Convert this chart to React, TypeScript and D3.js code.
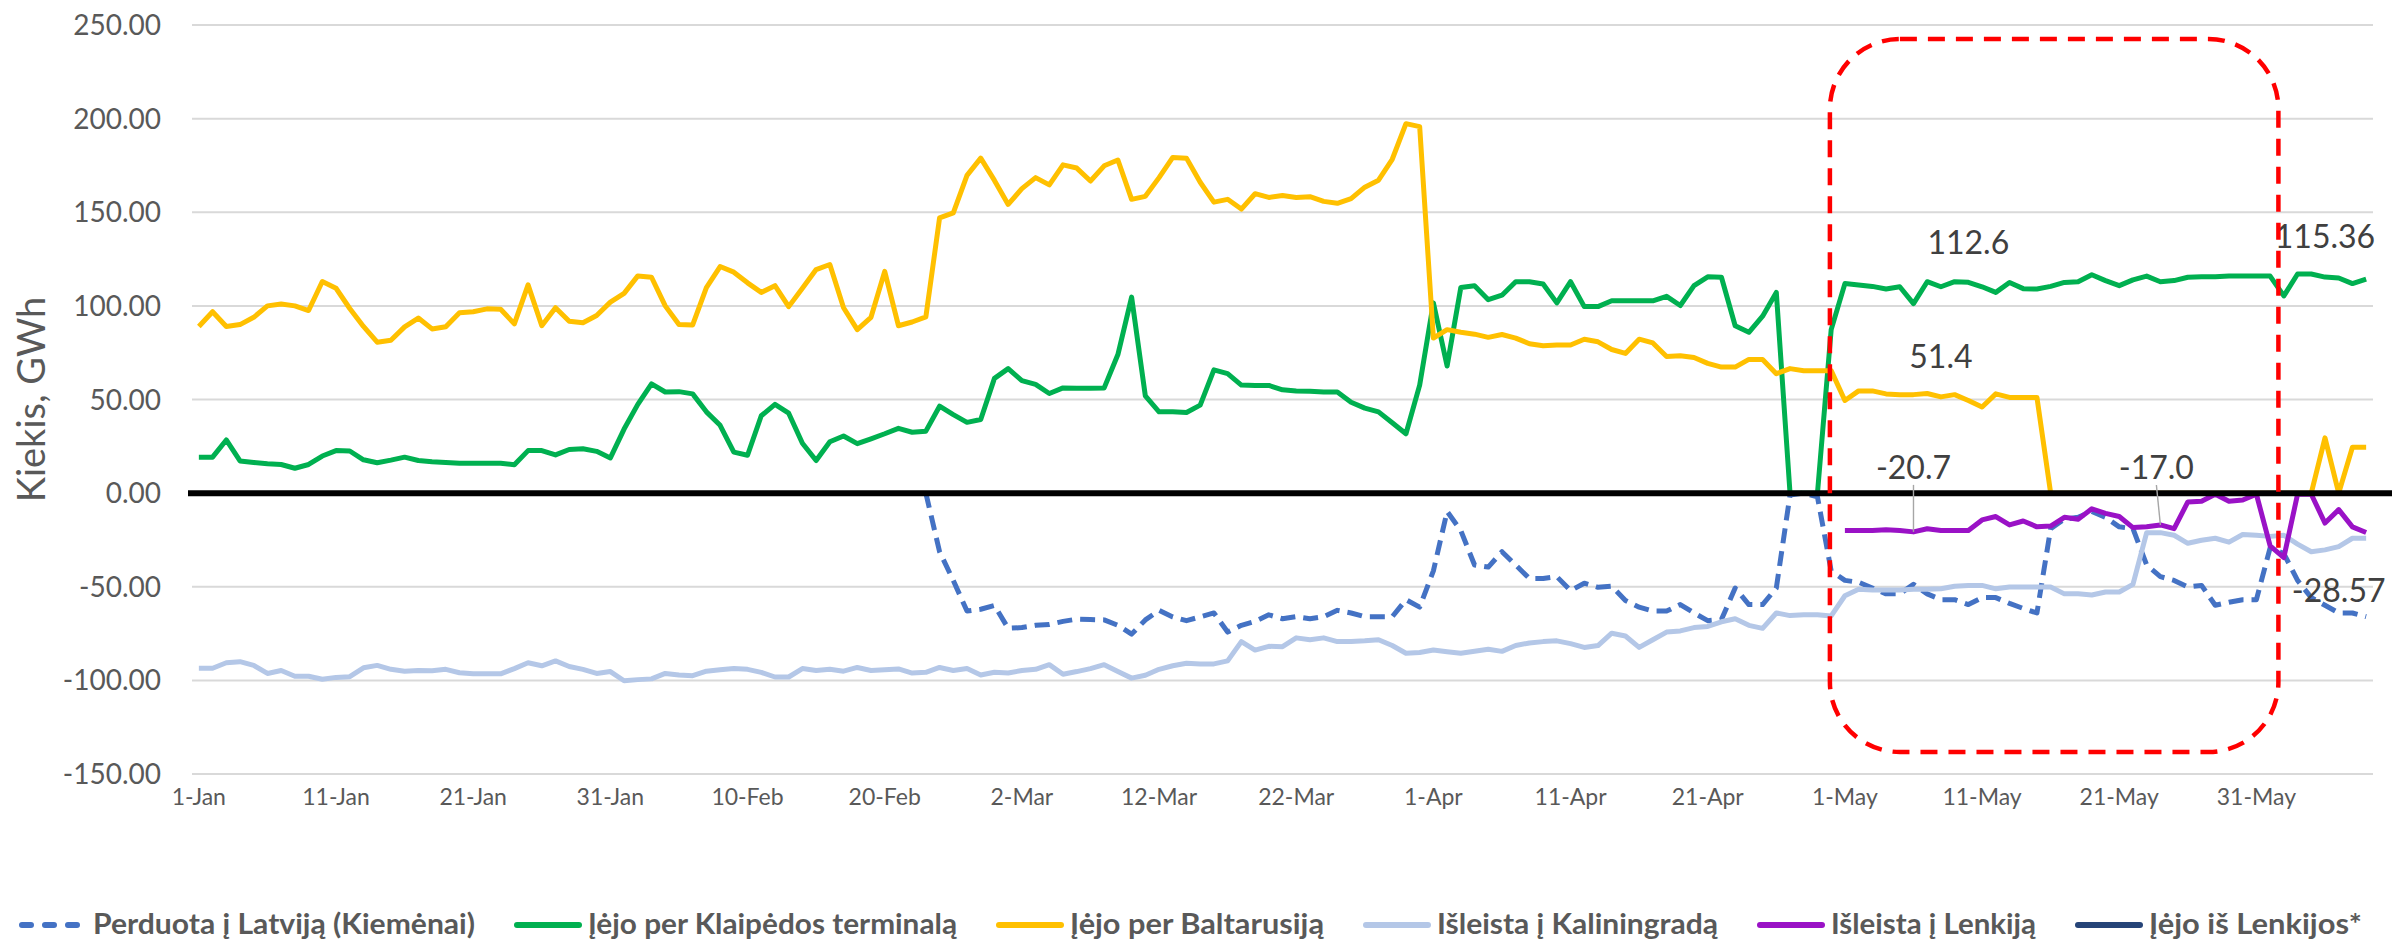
import * as d3 from 'd3';

const W = 2392;
const H = 940;
const PLOT_LEFT = 192;
const PLOT_RIGHT = 2373;
const FONT = "Lato, 'Open Sans', sans-serif";

// every day of 2022 from 1-Jan to 8-Jun
const dayDates = d3.timeDay.range(new Date(2022, 0, 1), new Date(2022, 5, 9));
const categories = dayDates.map(d3.timeFormat('%-d-%b'));

const xTickLabels = [
  '1-Jan', '11-Jan', '21-Jan', '31-Jan', '10-Feb', '20-Feb', '2-Mar', '12-Mar',
  '22-Mar', '1-Apr', '11-Apr', '21-Apr', '1-May', '11-May', '21-May', '31-May',
];
const yTicks = [250, 200, 150, 100, 50, 0, -50, -100, -150];

// Perduota į Latviją (Kiemėnai), from 23-Feb
const latvija = [
  0, -31.3, -46.6, -63, -62, -60, -72.2, -71.8, -70.6, -70.1,
  -68.5, -67.3, -67.5, -67.7, -70.6, -75.3, -67.7, -62.6, -66.1, -68.1,
  -66.1, -64, -74.2, -70.6, -68.5, -65, -67.1, -66, -67.1, -66,
  -62.6, -64, -66, -66, -66, -56.9, -60.9, -41.5, -9.8, -20,
  -38.4, -39.5, -31.3, -38.4, -45.6, -45.6, -44.6, -52.1, -48.1, -50.3,
  -49.7, -57.3, -60.9, -63, -63, -59.5, -64, -68.1, -67.5, -50.7,
  -59.5, -59.5, -50.7, -1, 0, -2, -41.5, -46.6, -47.6, -50.7,
  -53.8, -53.8, -48.7, -53.8, -56.9, -56.9, -59.5, -55.8, -55.8, -58.9,
  -61.6, -64, -19, -13.9, -12.9, -9.8, -12.9, -18, -19, -38.4,
  -44.6, -46.6, -50.1, -49.3, -59.9, -58.3, -56.9, -56.9, -29.2, -32.3,
  -46.6, -55.8, -59.9, -64, -64, -66,
];

// Įėjo per Klaipėdos terminalą
const klaipeda = [
  19.2, 19.2, 28.4, 17.2, 16.4, 15.7, 15.3, 13.3, 15.3, 19.8,
  22.7, 22.5, 17.8, 16.2, 17.6, 19.2, 17.4, 16.8, 16.4, 16.0,
  16.0, 16.0, 16.0, 15.1, 22.7, 22.7, 20.4, 23.3, 23.7, 22.3,
  18.8, 34.2, 47.4, 58.3, 54.0, 54.2, 53.0, 43.4, 36.2, 21.9,
  20.2, 41.3, 47.4, 42.7, 26.6, 17.4, 27.4, 30.5, 26.4, 29.0,
  31.7, 34.6, 32.5, 33.1, 46.4, 41.9, 37.8, 39.3, 61.3, 66.5,
  60.1, 58.1, 53.2, 56.2, 56.0, 56.0, 56.2, 74.0, 104.7, 51.9,
  43.4, 43.4, 43.1, 47.0, 65.8, 63.8, 57.7, 57.5, 57.5, 55.2,
  54.6, 54.4, 54.0, 54.0, 48.5, 45.4, 43.4, 37.6, 31.7, 57.7,
  101.6, 67.9, 109.8, 110.8, 103.3, 105.7, 112.9, 112.9, 111.7, 101.6,
  112.9, 99.6, 99.6, 102.7, 102.7, 102.7, 102.7, 105.1, 100.2, 110.8,
  115.5, 115.3, 89.4, 85.9, 94.5, 107.2, 0, 0, 0, 87.3,
  111.9, 111.2, 110.4, 109.0, 110.2, 101.2, 112.9, 110.2, 112.9, 112.6,
  110.2, 107.2, 112.5, 109.2, 109.0, 110.4, 112.5, 112.9, 116.6, 113.5,
  110.8, 113.9, 115.9, 112.9, 113.5, 115.3, 115.5, 115.5, 115.9, 115.9,
  115.9, 115.9, 105.3, 117.0, 117.0, 115.36, 114.9, 111.9, 114.3,
];

// Įėjo per Baltarusiją
const baltarusija = [
  89, 96.9, 89, 90, 93.9, 100, 101, 100, 97.5, 113,
  109.4, 98.6, 89, 80.6, 81.6, 88.8, 93.5, 87.7, 88.8, 96.3,
  96.9, 98.4, 98.2, 90.4, 111.2, 89.4, 99, 91.8, 91, 94.9,
  102, 106.7, 116, 115.3, 100, 90, 89.8, 109.8, 121, 118,
  112.3, 107.2, 110.8, 99.6, 109.4, 119.4, 122.1, 99, 87.3, 93.9,
  118.4, 89.4, 91.4, 94.1, 147, 149.7, 169.7, 178.9, 167, 154.2,
  162.6, 168.5, 164.6, 175.3, 173.6, 166.7, 174.8, 177.9, 156.9, 158.5,
  168.5, 179.3, 178.9, 166, 155.4, 156.9, 151.7, 159.9, 157.9, 158.9,
  157.9, 158.3, 155.8, 154.8, 157.3, 163.4, 167.1, 178.3, 197.3, 195.7,
  82.8, 87.3, 85.9, 84.9, 83.2, 84.7, 82.8, 79.8, 78.7, 79.1,
  79.1, 82.2, 80.8, 76.7, 74.6, 82.2, 80.2, 73, 73.4, 72.4,
  69.3, 67.3, 67.3, 71.4, 71.4, 63.8, 66.5, 65.4, 65.4, 65.4,
  49.5, 54.6, 54.6, 53, 52.6, 52.6, 53.2, 51.4, 52.6, 49.5,
  46, 53, 51.1, 51.1, 51.1, 0, 0, 0, 0, 0,
  0, 0, 0, 0, 0, 0, 0, 0, 0, 0,
  0, 0, 0, 0, 0, 29.5, 0, 24.5, 24.5,
];

// Išleista į Kaliningradą
const kaliningradas = [
  -93.5, -93.5, -90.6, -90, -92, -96.3, -94.7, -97.8, -97.8, -99.4,
  -98.4, -98, -93.3, -92, -94.1, -95.1, -94.7, -94.9, -94.1, -95.9,
  -96.5, -96.5, -96.5, -93.7, -90.6, -92.2, -89.6, -92.6, -94.1, -96.3,
  -95.3, -100.2, -99.6, -99.2, -96.3, -97.1, -97.5, -95.1, -94.3, -93.7,
  -94.1, -95.7, -98.2, -98.2, -93.7, -94.7, -94.1, -95.1, -93.1, -94.7,
  -94.3, -93.9, -96.1, -95.7, -93.1, -94.7, -93.7, -97.1, -95.7, -96.1,
  -94.7, -94.1, -91.6, -96.7, -95.3, -93.7, -91.6, -95.3, -98.8, -97.3,
  -94.1, -92.2, -90.9, -91.2, -91.2, -89.6, -79.3, -83.8, -81.8, -82,
  -77.3, -78.3, -77.3, -79.3, -79.3, -78.9, -78.3, -81.4, -85.5, -85.1,
  -83.8, -84.7, -85.5, -84.5, -83.4, -84.5, -81.4, -80, -79.3, -78.9,
  -80.4, -82.4, -81.4, -74.8, -76.3, -82.4, -78.3, -74.2, -73.6, -71.8,
  -71.2, -68.7, -67.1, -70.6, -72.2, -64, -65.4, -65, -65, -65.6,
  -54.8, -51.3, -51.7, -51.7, -51.7, -51.3, -51.3, -51.1, -49.7, -49.3,
  -49.3, -51.1, -50.1, -50.1, -50.1, -50.1, -53.8, -53.8, -54.4, -52.8,
  -52.8, -48.7, -21.1, -21.1, -22.5, -26.8, -25.2, -24.1, -26.2, -22.1,
  -22.5, -23.1, -22.5, -27.2, -31.3, -30.3, -28.57, -24.1, -24.1,
];

// Išleista į Lenkiją, from 1-May
const lenkija = [
  -20, -20, -20, -19.6, -20, -20.7, -19, -20, -20, -20,
  -14.3, -12.5, -17, -14.9, -18, -17.6, -12.9, -13.9, -8.4, -10.8,
  -12.5, -18.4, -18, -17.0, -19, -4.7, -4.3, -0.6, -4.3, -3.7,
  -0.6, -28.2, -34.4, -0.6, -0.6, -16, -8.8, -18, -21,
];

// Įėjo iš Lenkijos* (nothing visible above the zero line)
const isLenkijos: number[] = [];

const seriesList = [
  { name: 'Perduota į Latviją (Kiemėnai)', from: '23-Feb', values: latvija, color: '#4472C4', dash: '15 8' },
  { name: 'Įėjo per Klaipėdos terminalą', from: '1-Jan', values: klaipeda, color: '#00B050' },
  { name: 'Įėjo per Baltarusiją', from: '1-Jan', values: baltarusija, color: '#FFC000' },
  { name: 'Išleista į Kaliningradą', from: '1-Jan', values: kaliningradas, color: '#B4C7E7' },
  { name: 'Išleista į Lenkiją', from: '1-May', values: lenkija, color: '#9A12C6' },
  { name: 'Įėjo iš Lenkijos*', from: '1-May', values: isLenkijos, color: '#264478' },
];

const dataLabels = [
  { series: 1, at: '10-May', text: '112.6' },
  { series: 2, at: '8-May', text: '51.4' },
  { series: 4, at: '6-May', text: '-20.7' },
  { series: 4, at: '24-May', text: '-17.0' },
  { series: 1, at: '5-Jun', text: '115.36' },
  { series: 3, at: '6-Jun', text: '-28.57' },
];
// label placement relative to its point (dy of label centre), leader lines for some
const labelPlacement: Record<string, { dx: number; dy: number; leader?: boolean }> = {
  '112.6': { dx: 0, dy: -39 },
  '51.4': { dx: 0, dy: -40 },
  '-20.7': { dx: 0, dy: -64, leader: true },
  '-17.0': { dx: -4, dy: -57, leader: true },
  '115.36': { dx: 0, dy: -40 },
  '-28.57': { dx: 0, dy: 44 },
};

// Excel style: plain hyphen for negatives
const fmtTick = (v: number) => d3.format('.2f')(v).replace('\u2212', '-');

export default function App() {
  const x = d3.scalePoint<string>().domain(categories).range([PLOT_LEFT, PLOT_RIGHT]).padding(0.5);
  const y = d3.scaleLinear().domain([-150, 250]).range([774, 25]);

  const pathFor = (s: typeof seriesList[number]) => {
    const start = categories.indexOf(s.from);
    return d3
      .line<number>()
      .x((_, i) => x(categories[start + i])!)
      .y(d => y(d))(s.values);
  };

  const valueAt = (si: number, at: string) => {
    const s = seriesList[si];
    return s.values[categories.indexOf(at) - categories.indexOf(s.from)];
  };

  // highlighted region (1-May .. 31-May)
  const box = {
    x0: x('1-May')! - 15,
    x1: x('31-May')! + 22,
    y0: y(250) + 14,
    y1: y(-150) - 22,
  };

  // legend layout
  const legendWidths = [382, 369, 254, 281, 205, 213];
  const SAMPLE = 68;
  let cursor = 19;
  const legendItems = seriesList.map((s, i) => {
    const item = { ...s, x: cursor, w: legendWidths[i] };
    cursor += SAMPLE + 6 + legendWidths[i] + 39;
    return item;
  });
  const legendY = 925;

  return (
    <svg
      width={W}
      height={H}
      viewBox={`0 0 ${W} ${H}`}
      style={{ position: 'absolute', left: 0, top: 0, background: '#fff', display: 'block' }}
    >
      <rect width={W} height={H} fill="#fff" />
      {yTicks.map(t => (
        <line key={t} x1={PLOT_LEFT} x2={PLOT_RIGHT} y1={y(t)} y2={y(t)} stroke="#d9d9d9" strokeWidth={2} />
      ))}

      {seriesList.map(s =>
        s.values.length ? (
          <path
            key={s.name}
            d={pathFor(s) || ''}
            fill="none"
            stroke={s.color}
            strokeWidth={5}
            strokeLinejoin="round"
            strokeDasharray={s.dash}
          />
        ) : null,
      )}

      <line x1={188} x2={W} y1={y(0)} y2={y(0)} stroke="#000" strokeWidth={6} />

      {dataLabels.map(l => {
        const p = labelPlacement[l.text];
        const px = x(l.at)!;
        const py = y(valueAt(l.series, l.at));
        const cx = px + p.dx;
        const cy = py + p.dy;
        return (
          <g key={l.text}>
            {p.leader && <line x1={cx} y1={cy + 17} x2={px} y2={py} stroke="#a6a6a6" strokeWidth={1.4} />}
            <text
              x={cx}
              y={cy + 11}
              textAnchor="middle"
              fontFamily={FONT}
              fontSize={32}
              fill="#404040"
            >
              {l.text}
            </text>
          </g>
        );
      })}

      <rect
        x={box.x0}
        y={box.y0}
        width={box.x1 - box.x0}
        height={box.y1 - box.y0}
        rx={70}
        ry={70}
        fill="none"
        stroke="#ff0000"
        strokeWidth={4.5}
        strokeDasharray="17 11"
      />

      {yTicks.map(t => (
        <text
          key={t}
          x={161}
          y={y(t) + 10}
          textAnchor="end"
          fontFamily={FONT}
          fontSize={28}
          fill="#595959"
        >
          {fmtTick(t)}
        </text>
      ))}

      {xTickLabels.map(lbl => (
        <text
          key={lbl}
          x={x(lbl)}
          y={805}
          textAnchor="middle"
          fontFamily={FONT}
          fontSize={23}
          fill="#595959"
        >
          {lbl}
        </text>
      ))}

      <text
        transform={`translate(45, ${(y(250) + y(-150)) / 2}) rotate(-90)`}
        textAnchor="middle"
        fontFamily={FONT}
        fontSize={38}
        fill="#595959"
      >
        Kiekis, GWh
      </text>

      {legendItems.map(it => (
        <g key={it.name}>
          <line
            x1={it.x + 3}
            x2={it.x + SAMPLE - 3}
            y1={legendY}
            y2={legendY}
            stroke={it.color}
            strokeWidth={6}
            strokeLinecap="round"
            strokeDasharray={it.dash ? '9 14' : undefined}
          />
          <text
            x={it.x + SAMPLE + 6}
            y={legendY + 9}
            fontFamily={FONT}
            fontWeight={700}
            fontSize={28}
            fill="#595959"
            textLength={it.w}
            lengthAdjust="spacingAndGlyphs"
          >
            {it.name}
          </text>
        </g>
      ))}
    </svg>
  );
}
